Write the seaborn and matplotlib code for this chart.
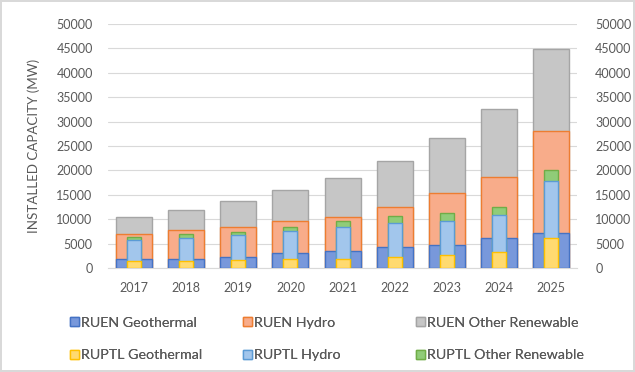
import matplotlib
matplotlib.use("Agg")
import matplotlib.pyplot as plt
import seaborn as sns
import pandas as pd
from matplotlib.patches import Patch

years = ["2017", "2018", "2019", "2020", "2021", "2022", "2023", "2024", "2025"]
ruen_geo = [1800, 1900, 2300, 3000, 3400, 4200, 4700, 6100, 7100]
ruen_hydro = [5200, 5800, 6200, 6600, 7150, 8200, 10600, 12500, 21000]
ruen_other = [3500, 4200, 5300, 6400, 7900, 9500, 11400, 13900, 16700]
ruptl_geo = [1400, 1500, 1650, 1800, 1800, 2300, 2600, 3350, 6100]
ruptl_hydro = [4400, 4600, 5100, 5700, 6700, 6850, 7100, 7500, 11800]
ruptl_other = [450, 800, 700, 1000, 1200, 1500, 1650, 1600, 2200]

text_col = "#595959"
c = {
    "RUEN Geothermal": ("#7898DB", "#4472C4"),
    "RUEN Hydro": ("#F8AC8A", "#ED7D31"),
    "RUEN Other Renewable": ("#C6C6C6", "#A5A5A5"),
    "RUPTL Geothermal": ("#FFDA70", "#FFC000"),
    "RUPTL Hydro": ("#A2C6EC", "#5B9BD5"),
    "RUPTL Other Renewable": ("#90CC78", "#70AD47"),
}

df = pd.DataFrame({
    "year": years,
    "ruen1": ruen_geo,
    "ruen2": [a + b for a, b in zip(ruen_geo, ruen_hydro)],
    "ruen3": [a + b + d for a, b, d in zip(ruen_geo, ruen_hydro, ruen_other)],
    "ruptl1": ruptl_geo,
    "ruptl2": [a + b for a, b in zip(ruptl_geo, ruptl_hydro)],
    "ruptl3": [a + b + d for a, b, d in zip(ruptl_geo, ruptl_hydro, ruptl_other)],
})

sns.set_style("white")
plt.rcParams["font.family"] = ["Lato", "DejaVu Sans"]

fig = plt.figure(figsize=(6.35, 3.72), dpi=100)
fig.patch.set_edgecolor("#D9D9D9")
fig.patch.set_linewidth(1.5)
ax = fig.add_axes([0.170, 0.2796, 0.739, 0.6559])

layers = [
    ("ruen3", "RUEN Other Renewable", 0.69),
    ("ruen2", "RUEN Hydro", 0.69),
    ("ruen1", "RUEN Geothermal", 0.69),
    ("ruptl3", "RUPTL Other Renewable", 0.27),
    ("ruptl2", "RUPTL Hydro", 0.27),
    ("ruptl1", "RUPTL Geothermal", 0.27),
]
for col, name, w in layers:
    fc, ec = c[name]
    sns.barplot(data=df, x="year", y=col, ax=ax, color=fc, width=w,
                edgecolor=ec, linewidth=1.0, saturation=1, zorder=3)

ax.set_ylim(0, 50000)
ax.set_xlim(-0.5, 8.5)
ax.set_yticks(range(0, 50001, 5000))
ax.grid(axis="y", color="#D9D9D9", linewidth=0.8, zorder=0)
ax.set_axisbelow(True)
for s in ["top", "right", "left"]:
    ax.spines[s].set_visible(False)
ax.spines["bottom"].set_color("#D9D9D9")
ax.tick_params(axis="both", length=0, colors=text_col, labelsize=9)
ax.tick_params(axis="y", pad=11)
ax.tick_params(axis="x", pad=10)
ax.set_xlabel("")
ax.set_ylabel("INSTALLED CAPACITY (MW)", color=text_col, fontsize=9.6)
ax.yaxis.set_label_coords(-0.145, 0.5)

ax2 = ax.twinx()
ax2.set_ylim(0, 50000)
ax2.set_yticks(range(0, 50001, 5000))
for s in ["top", "right", "left", "bottom"]:
    ax2.spines[s].set_visible(False)
ax2.tick_params(axis="y", length=0, colors=text_col, labelsize=9, pad=13)

groups = [
    ["RUEN Geothermal", "RUPTL Geothermal"],
    ["RUEN Hydro", "RUPTL Hydro"],
    ["RUEN Other Renewable", "RUPTL Other Renewable"],
]
xs = [70, 243, 416]
for names, x in zip(groups, xs):
    handles = [Patch(facecolor=c[n][0], edgecolor=c[n][1], linewidth=1) for n in names]
    leg = fig.legend(handles, names, loc="center left",
                     bbox_to_anchor=(x / 635, 1 - 339 / 372),
                     frameon=False, fontsize=10.3, handlelength=0.62, handleheight=0.62,
                     handletextpad=0.15, labelspacing=1.45, borderaxespad=0, borderpad=0)
    for t in leg.get_texts():
        t.set_color(text_col)
    fig.add_artist(leg)

fig.savefig("out.png", dpi=100)
